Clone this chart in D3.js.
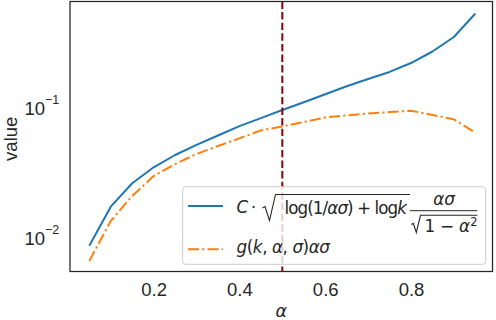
<!DOCTYPE html>
<html><head><meta charset="utf-8">
<script src="https://cdn.jsdelivr.net/npm/d3@7"></script>
<style>html,body{margin:0;padding:0;background:#fff;} svg{display:block;}</style>
</head><body>
<svg id="chart" width="496" height="320"></svg>
<script>
// ---- data ----
const alphas = [0.05,0.10,0.15,0.20,0.25,0.30,0.35,0.40,0.45,0.50,0.55,0.60,0.65,0.70,0.75,0.80,0.85,0.90,0.95];
const boundValues = [0.0087,0.01733,0.0262,0.03476,0.0432,0.0516,0.061,0.0719,0.0829,0.0957,0.1096,0.1263,0.1455,0.1655,0.1875,0.2195,0.269,0.3476,0.5263];
const gValues = [0.00664,0.01346,0.02094,0.0298,0.0368,0.044,0.0506,0.058,0.0667,0.0715,0.0774,0.0838,0.0871,0.0899,0.0923,0.0945,0.0876,0.0811,0.0643];
const xTicks = [0.2,0.4,0.6,0.8];
const yTicks = [0.01,0.1];
const yTickExponents = ["\u22122","\u22121"];
const alphaMarker = 0.5;
const xLabel = "\u03b1";
const yLabel = "value";

// ---- layout ----
const L = 70, R = 492.5, T = 1.5, B = 271.5;
const FONT = "DejaVu Sans";
const TICKFONT = "Liberation Sans, Arial, sans-serif";
const TXT = "#262626";
const svg = d3.select("#chart");

const x = d3.scaleLinear().domain([0.005, 0.99]).range([L, R]);
const y = d3.scaleLog().domain([Math.pow(10,-2.2586), Math.pow(10,-0.1865)]).range([B, T]);

svg.append("defs").append("clipPath").attr("id","clip")
  .append("rect").attr("x",L).attr("y",T).attr("width",R-L).attr("height",B-T);

const plot = svg.append("g").attr("clip-path","url(#clip)");
const line = (vals) => d3.line().x((d,i)=>x(alphas[i])).y(d=>y(d))(vals);

plot.append("path").attr("d", line(boundValues)).attr("fill","none")
  .attr("stroke","#1f77b4").attr("stroke-width",2).attr("stroke-linejoin","round");
plot.append("path").attr("d", line(gValues)).attr("fill","none")
  .attr("stroke","#ff7f0e").attr("stroke-width",2).attr("stroke-dasharray","11,3.2,2.2,3.2");
plot.append("line").attr("x1",x(alphaMarker)).attr("x2",x(alphaMarker)).attr("y1",T).attr("y2",B)
  .attr("stroke","#8b0000").attr("stroke-width",2).attr("stroke-dasharray","7.4,3.2");

// spines
svg.append("rect").attr("x",L).attr("y",T).attr("width",R-L).attr("height",B-T)
  .attr("fill","none").attr("stroke",TXT).attr("stroke-width",1.25);

// x axis
const gx = svg.append("g").attr("transform",`translate(0,${B})`)
  .call(d3.axisBottom(x).tickValues(xTicks).tickSize(0).tickFormat(d3.format(".1f")));
gx.select(".domain").remove();
gx.attr("font-family",TICKFONT).attr("font-size",18.5).attr("color",TXT);
gx.selectAll(".tick text").attr("y",24.7).attr("dy",null).attr("fill",TXT);

// y axis
const gy = svg.append("g").attr("transform",`translate(${L},0)`)
  .call(d3.axisLeft(y).tickValues(yTicks).tickSize(0).tickFormat(()=>"10"));
gy.select(".domain").remove();
gy.attr("font-family",TICKFONT).attr("font-size",18.5).attr("color",TXT);
gy.selectAll(".tick text").attr("x",-25).attr("dy",null).attr("y",6.8).attr("text-anchor","end").attr("fill",TXT);
gy.selectAll(".tick").append("text").text((d,i)=>yTickExponents[i])
  .attr("x",-25).attr("y",-4.2).attr("font-size",12.5).attr("text-anchor","start").attr("fill",TXT);

// axis labels
svg.append("text").text(xLabel).attr("x",(L+R)/2).attr("y",316.5).attr("text-anchor","middle")
  .attr("font-family",FONT).attr("font-style","italic").attr("font-size",17.5).attr("fill",TXT);
svg.append("text").text(yLabel).attr("transform","translate(17.3,138.8) rotate(-90)").attr("text-anchor","middle")
  .attr("font-family",TICKFONT).attr("font-size",18.5).attr("fill",TXT);

// legend
const lg = svg.append("g").attr("font-family",FONT).attr("fill",TXT).attr("font-size",16.8);
lg.append("rect").attr("x",182.7).attr("y",186.7).attr("width",303).attr("height",77.6).attr("rx",3)
  .attr("fill","white").attr("fill-opacity",0.8).attr("stroke","#cccccc").attr("stroke-width",1);
lg.append("line").attr("x1",188).attr("x2",223).attr("y1",206).attr("y2",206)
  .attr("stroke","#1f77b4").attr("stroke-width",2);
lg.append("line").attr("x1",188).attr("x2",223).attr("y1",249.3).attr("y2",249.3)
  .attr("stroke","#ff7f0e").attr("stroke-width",2).attr("stroke-dasharray","11,3.2,2.2,3.2");

function mtext(g, xPos, yPos, parts, opts={}) {
  const t = g.append("text").attr("x",xPos).attr("y",yPos);
  if (opts.anchor) t.attr("text-anchor",opts.anchor);
  if (opts.size) t.attr("font-size",opts.size);
  parts.forEach(([s,it]) => t.append("tspan").text(s).attr("font-style", it ? "italic" : "normal"));
  if (opts.len) t.attr("textLength",opts.len).attr("lengthAdjust","spacing");
  return t;
}
// entry 1
mtext(lg, 236.5, 213.3, [["C",1]]);
mtext(lg, 253.5, 213.3, [["\u22c5",0]], {anchor:"middle"});
lg.append("path").attr("d","M262.5,208 L265,206.6 L269.5,220.5 L275.5,194.5 H410")
  .attr("fill","none").attr("stroke",TXT).attr("stroke-width",1.1);
mtext(lg, 284.5, 213.5, [["log(1/",0],["\u03b1\u03c3",1],[")",0],[" + ",0],["log",0],["k",1]], {len:122.5});
mtext(lg, 444, 205, [["\u03b1\u03c3",1]], {anchor:"middle"});
lg.append("line").attr("x1",410).attr("x2",477.3).attr("y1",210.7).attr("y2",210.7)
  .attr("stroke",TXT).attr("stroke-width",1);
lg.append("path").attr("d","M411.3,224.5 L413.3,223.4 L416.3,232.5 L420.5,215.3 H477.3")
  .attr("fill","none").attr("stroke",TXT).attr("stroke-width",1.1);
mtext(lg, 424.5, 232, [["1 \u2212 ",0],["\u03b1",1]], {len:45.5});
mtext(lg, 470.3, 225.8, [["2",0]], {size:11.5});
// entry 2
mtext(lg, 236.5, 253, [["g",1],["(",0],["k",1],[", ",0],["\u03b1",1],[", ",0],["\u03c3",1],[")",0],["\u03b1\u03c3",1]], {len:93.5});
</script>
</body></html>
